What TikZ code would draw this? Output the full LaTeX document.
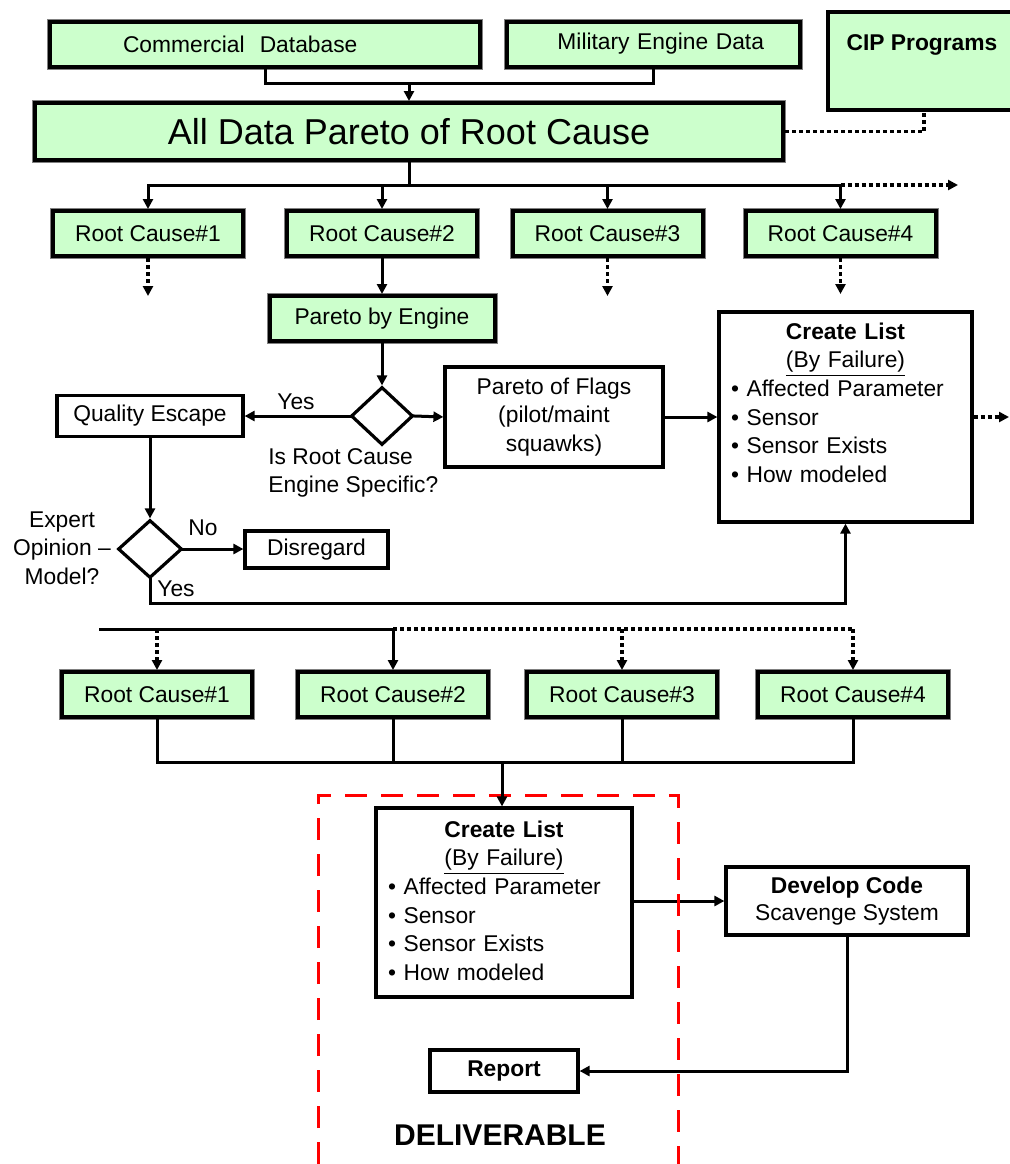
\documentclass[tikz,border=0pt]{standalone}
\usepackage{fontspec}
\setmainfont{Liberation Sans}
\usepackage{tikz}
\usetikzlibrary{arrows.meta,shapes.geometric,positioning}
\definecolor{boxgreen}{HTML}{CCFFCC}

\begin{document}
\begin{tikzpicture}
  [x=0.5pt,y=-0.5pt,
   every node/.style={font=\fontsize{11.4}{14.3}\selectfont},
   greenbox/.style={rectangle,fill=boxgreen,draw=black,line width=2pt,
     preaction={draw=gray,line width=3pt},
     minimum width=95pt,minimum height=22.5pt,inner sep=0pt},
   whitebox/.style={rectangle,fill=white,draw=black,line width=1.6pt,inner sep=0pt},
   decide/.style={diamond,draw=black,line width=1.6pt,fill=white,inner sep=0pt,
     minimum width=31pt,minimum height=29pt},
   listtext/.style={inner sep=0pt,text width=114.5pt},
   plain/.style={inner sep=0pt},
   conn/.style={line width=1.5pt,line cap=rect},
   arr/.style={conn,-{Triangle[length=5pt,width=5pt]}},
   dotconn/.style={line width=1.6pt,dash pattern=on 2pt off 1.5pt},
   dotarr/.style={dotconn,-{Triangle[length=5pt,width=5pt]}}]
  \useasboundingbox (0,0) rectangle (1010,1164);
  \clip (0,0) rectangle (1010,1164);

  % data sources
  \node[greenbox,minimum width=215pt,text width=142pt,align=left] (comm) at (265,44)
    {Commercial\ \ Database};
  \node[greenbox,minimum width=146.5pt,text width=110.5pt,align=right] (mil) at (653.5,44)
    {Military Engine Data};
  % CIP box runs off the right edge: fill it, then draw three sides only
  \node[rectangle,fill=boxgreen,inner sep=0pt,minimum width=120pt,minimum height=49pt] (cip) at (948,61) {};
  \draw[line width=2pt] (cip.north east) -- (cip.north west) -- (cip.south west) -- (cip.south east);
  \node[plain,font=\fontsize{11.4}{14.3}\selectfont\bfseries] (ciptxt) at (922,45) {CIP Programs};
  \coordinate (cipfoot) at (924,110);
  \node[greenbox,minimum width=374pt,minimum height=28.5pt,
    font=\fontsize{18}{22}\selectfont] (pareto) at (409,131.5) {All Data Pareto of Root Cause};

  \coordinate (join) at (409,83);
  \draw[conn] (comm.south) |- (mil.south |- join) -- (mil.south);
  \draw[arr] (join) -- (pareto.north);
  \draw[dotconn] (pareto.east) -- (cipfoot |- pareto.east) -- (cipfoot |- cip.south);

  % first pareto
  \node[greenbox] (rca1) at (148,233.5) {Root Cause\#1};
  \node[greenbox] (rca2) at (382,233.5) {Root Cause\#2};
  \node[greenbox] (rca3) at (607.5,233.5) {Root Cause\#3};
  \node[greenbox] (rca4) at (840.5,233.5) {Root Cause\#4};

  \coordinate (bus1) at (409,185);
  \coordinate (more1) at (958,185);
  \draw[conn] (pareto.south) -- (bus1);
  \draw[conn] (rca1.north |- bus1) -- (rca4.north |- bus1);
  \foreach \n in {rca1,rca2,rca3,rca4}
    \draw[arr] (\n.north |- bus1) -- (\n.north);
  \draw[dotarr] (rca4.north |- bus1) -- (more1);

  \coordinate (end1) at (148,296);
  \coordinate (end3) at (607.5,296);
  \coordinate (end4) at (840.5,294);
  \foreach \n/\e in {rca1/end1,rca3/end3,rca4/end4}
    \draw[dotarr] (\n.south) -- (\e);

  % root cause #2 branch
  \node[greenbox,minimum width=112.5pt] (engine) at (382,318.5) {Pareto by Engine};
  \draw[arr] (rca2.south) -- (engine.north);

  \node[decide] (isroot) at (382,416) {};
  \draw[arr] (engine.south) -- (isroot.north);
  \node[plain,align=left,anchor=west] (isroottxt) at (268,473) {Is Root Cause\\Engine Specific?};

  \node[whitebox,minimum width=93pt,minimum height=20.5pt] (escape) at (150,416) {Quality Escape};
  \draw[arr] (isroot.west) -- (escape.east);
  \node[plain] (yes1) at (296,402) {Yes};

  \node[whitebox,minimum width=109pt,minimum height=50pt,align=center] (flags) at (554,417)
    {Pareto of Flags\\(pilot/maint\\squawks)};
  \draw[arr] (isroot.east) -- (flags.west);

  \node[whitebox,minimum width=126.5pt,minimum height=105pt] (list1) at (845.5,417) {};
  \node[listtext,below=6pt of list1.north] (list1txt)
    {\centering\textbf{Create List}\\\underline{(By Failure)}\par
     \raggedright\textbullet\ Affected Parameter\\\textbullet\ Sensor\\
     \textbullet\ Sensor Exists\\\textbullet\ How modeled\par};
  \draw[arr] (flags.east) -- (list1.west |- flags.east);
  \coordinate (end5) at (1009,417);
  \draw[dotarr] (list1.east) -- (end5);

  \node[decide,minimum width=32pt] (expert) at (150,549) {};
  \draw[arr] (escape.south) -- (expert.north);
  \node[plain,align=center] (experttxt) at (62,548) {Expert\\Opinion –\\Model?};

  \node[whitebox,minimum width=71.5pt,minimum height=18.5pt] (ignore) at (316.5,549.5) {Disregard};
  \draw[arr] (expert.east) -- (ignore.west |- expert.east);
  \node[plain] (no) at (203,528) {No};
  \node[plain] (yes2) at (176,589) {Yes};

  \coordinate (back) at (150,603);
  \draw[arr] (expert.south) -- (back) -| (list1.south);

  % second pareto
  \node[greenbox] (rcb1) at (157,694.5) {Root Cause\#1};
  \node[greenbox] (rcb2) at (393,694.5) {Root Cause\#2};
  \node[greenbox] (rcb3) at (622,694.5) {Root Cause\#3};
  \node[greenbox] (rcb4) at (853,694.5) {Root Cause\#4};

  \coordinate (bar) at (100,629);
  \draw[conn] (bar) -- (rcb2.north |- bar);
  \draw[dotconn] (rcb2.north |- bar) -- (rcb4.north |- bar);
  \draw[arr] (rcb2.north |- bar) -- (rcb2.north);
  \foreach \n in {rcb1,rcb3,rcb4}
    \draw[dotarr] (\n.north |- bar) -- (\n.north);

  \coordinate (bus2) at (502,762);
  \draw[conn] (rcb1.south) |- (rcb4.south |- bus2) -- (rcb4.south);
  \foreach \n in {rcb2,rcb3}
    \draw[conn] (\n.south) -- (\n.south |- bus2);

  % deliverable
  \node[whitebox,minimum width=128pt,minimum height=94.5pt] (list2) at (504,902.5) {};
  \node[listtext,text width=116pt,below=7pt of list2.north] (list2txt)
    {\centering\textbf{Create List}\\\underline{(By Failure)}\par
     \raggedright\textbullet\ Affected Parameter\\\textbullet\ Sensor\\
     \textbullet\ Sensor Exists\\\textbullet\ How modeled\par};

  \node[whitebox,minimum width=121pt,minimum height=34pt,align=center,
    font=\fontsize{11.4}{13.5}\selectfont] (code) at (847,901) {\textbf{Develop Code}\\Scavenge System};
  \draw[arr] (list2.east |- code.west) -- (code.west);

  \node[whitebox,minimum width=74pt,minimum height=21pt,
    font=\fontsize{11.4}{14.3}\selectfont\bfseries] (report) at (504,1071) {Report};
  \draw[arr] (code.south) |- (report.east);

  \draw[red,line width=1.5pt,dash pattern=on 11pt off 7pt]
    (318,1164) -- (318,795) -- (678,795) -- (678,1164);
  \draw[arr] (bus2) -- (bus2 |- list2.north);

  \node[plain,font=\fontsize{15}{18}\selectfont\bfseries] (deliv) at (500,1135) {DELIVERABLE};
\end{tikzpicture}
\end{document}
